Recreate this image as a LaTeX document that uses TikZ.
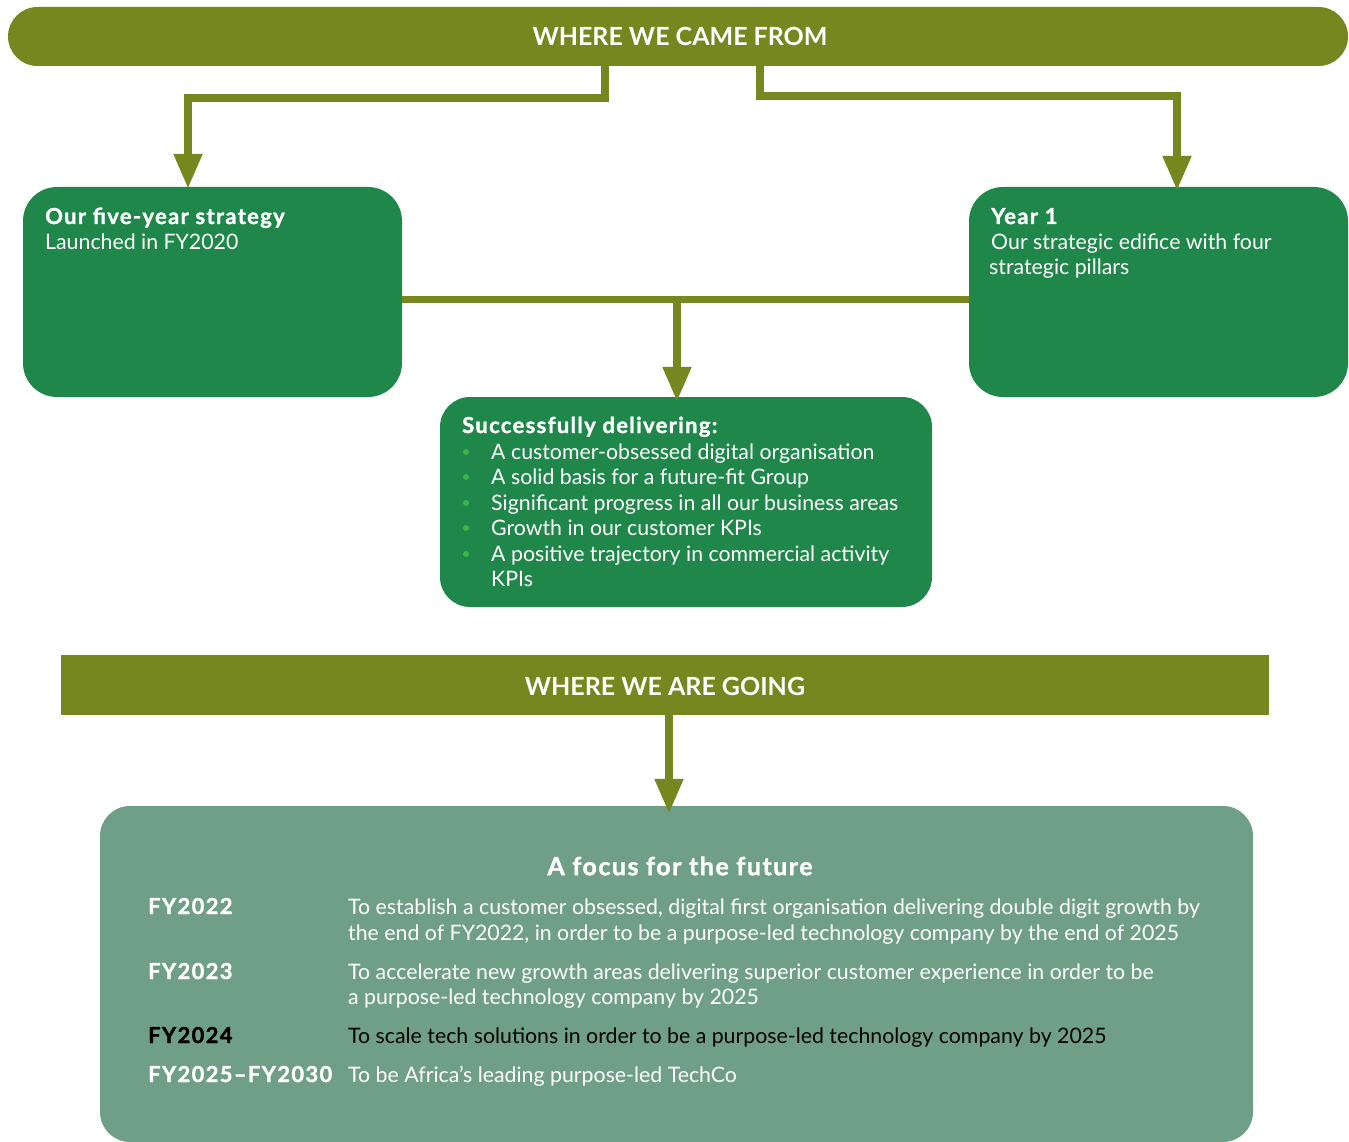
\documentclass[tikz,border=0pt]{standalone}
\usepackage{fontspec}
\usepackage{graphicx}
\setmainfont{Lato}
\newfontfamily\heavyfont{Lato}[BoldFeatures={FakeBold=1.3,LetterSpace=6}]
\usetikzlibrary{arrows.meta,calc}
\definecolor{olivec}{HTML}{778720}
\definecolor{dgreen}{HTML}{1E8749}
\definecolor{sage}{HTML}{6FA087}
\definecolor{bulletc}{HTML}{3DB54A}
\tikzset{
  box/.style={fill=dgreen, rounded corners=34pt, inner sep=0pt},
  bandtext/.style={text=white, font=\fontsize{25}{30}\selectfont\bfseries},
  conn/.style={draw=olivec, line width=8pt, line join=miter, -{Triangle[length=35pt,width=27pt]}},
  plainline/.style={draw=olivec, line width=7pt},
  hd/.style={anchor=base west, inner sep=0pt, text=white, font=\fontsize{22}{25}\heavyfont\bfseries},
  bd/.style={anchor=base west, inner sep=0pt, text=white, font=\fontsize{21.3}{25}\selectfont},
  dot/.style={circle, fill=bulletc, minimum size=6pt, inner sep=0pt},
  yr/.style={anchor=base west, inner sep=0pt, font=\fontsize{22}{26}\heavyfont\bfseries},
  ds/.style={anchor=base west, inner sep=0pt, font=\fontsize{21.3}{26}\selectfont}
}
\begin{document}
\begin{tikzpicture}[x=1pt,y=-1pt]
\useasboundingbox (0,0) rectangle (1349,1142);
\clip (0,0) rectangle (1349,1142);
% top pill
\node[fill=olivec, rounded corners=29.5pt, minimum width=1340pt, minimum height=59pt, inner sep=0pt] (top) at (678,36.5) {};
\node[bandtext] (toptxt) at (680,36.5) {WHERE WE CAME FROM};
% boxes
\node[box, minimum width=379pt, minimum height=210pt] (b1) at (212.5,292) {};
\node[box, minimum width=379pt, minimum height=210pt] (b2) at (1158.5,292) {};
\node[box, rounded corners=30pt, minimum width=492pt, minimum height=210pt] (b3) at (686,502) {};
% connectors
\coordinate (xl) at (605,0);
\coordinate (xlt) at (188,0);
\coordinate (xr) at (760,0);
\coordinate (xrt) at (1177,0);
\draw[conn] (top.south -| xl) -- ++(0,32) -| ([yshift=-2pt]b1.north -| xlt);
\draw[conn] (top.south -| xr) -- ++(0,30) -| ([yshift=-4pt]b2.north -| xrt);
\coordinate (hy) at (0,299);
\coordinate (hm) at (677,299);
\draw[plainline] (b1.east |- hy) -- (b2.west |- hy);
\draw[conn] (hm) -- ([yshift=-5pt]b3.north -| hm);
% box texts
\node[hd] (t1a) at (45,224) {Our five-year strategy};
\node[bd] (t1b) at (45,249) {Launched in FY2020};
\node[hd] (t2a) at (991,224) {Year 1};
\node[bd] (t2b) at (991,249) {Our strategic edifice with four};
\node[bd] (t2c) at (989,274) {strategic pillars};
\node[hd] (t3a) at (462,433) {Successfully delivering:};
\node[bd] (l1) at (491,459) {A customer-obsessed digital organisation};
\node[bd] (l2) at (491,484) {A solid basis for a future-fit Group};
\node[bd] (l3) at (491,510) {Significant progress in all our business areas};
\node[bd] (l4) at (491,535) {Growth in our customer KPIs};
\node[bd] (l5) at (491,561) {A positive trajectory in commercial activity};
\node[bd] (l6) at (491,586) {KPIs};
\node[dot] (d1) at (466,452) {};
\node[dot] (d2) at (466,477) {};
\node[dot] (d3) at (466,503) {};
\node[dot] (d4) at (466,528) {};
\node[dot] (d5) at (466,554) {};
% going bar
\node[fill=olivec, minimum width=1208pt, minimum height=60pt, inner sep=0pt] (bar) at (665,685) {};
\node[bandtext] (bartxt) at (665,686) {WHERE WE ARE GOING};
% bottom box
\node[fill=sage, rounded corners=30pt, minimum width=1153pt, minimum height=336pt, inner sep=0pt] (bot) at (676.5,974) {};
\coordinate (ax) at (669,0);
\draw[conn] (bar.south -| ax) -- ([yshift=-8pt]bot.north -| ax);
\node[text=white, inner sep=0pt, font=\fontsize{25}{30}\heavyfont\bfseries] (ftitle) at (680,866) {A focus for the future};
\node[yr, text=white] (y1) at (148,914) {FY2022};
\node[ds, text=white] (s1a) at (348,914) {To establish a customer obsessed, digital first organisation delivering double digit growth by};
\node[ds, text=white] (s1b) at (348,940) {the end of FY2022, in order to be a purpose-led technology company by the end of 2025};
\node[yr, text=white] (y2) at (148,979) {FY2023};
\node[ds, text=white] (s2a) at (348,979) {To accelerate new growth areas delivering superior customer experience in order to be};
\node[ds, text=white] (s2b) at (348,1004) {a purpose-led technology company by 2025};
\node[yr, text=black] (y3) at (148,1043) {FY2024};
\node[ds, text=black] (s3) at (348,1043) {To scale tech solutions in order to be a purpose-led technology company by 2025};
\node[yr, text=white] (y4) at (148,1082) {FY2025–FY2030};
\node[ds, text=white] (s4) at (348,1082) {To be Africa’s leading purpose-led TechCo};
\end{tikzpicture}
\end{document}
